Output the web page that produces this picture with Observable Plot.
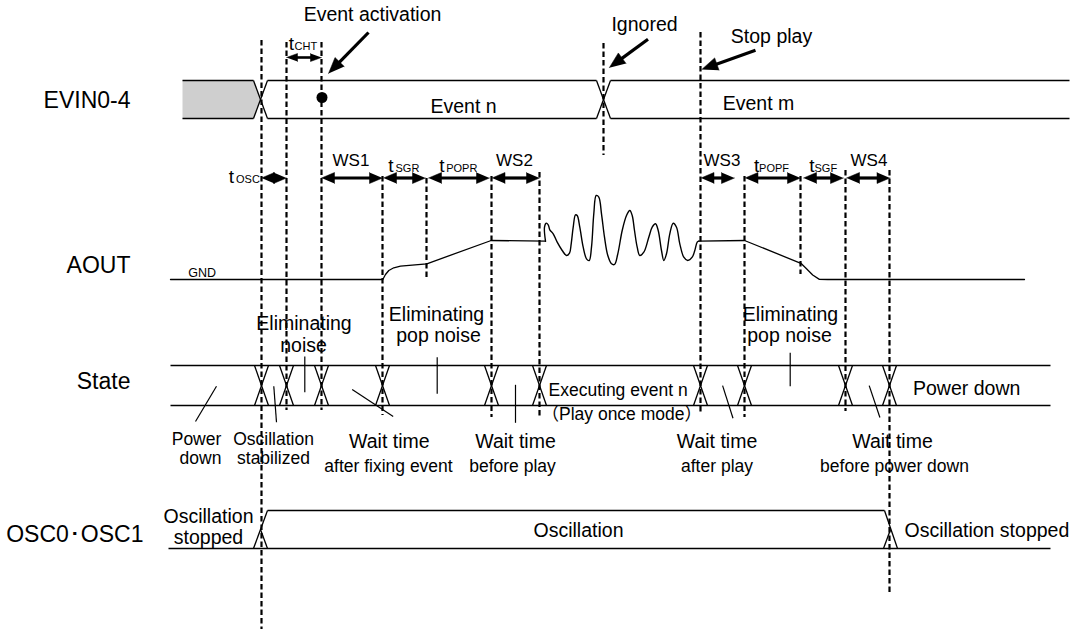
<!DOCTYPE html>
<html>
<head>
<meta charset="utf-8">
<script src="https://cdn.jsdelivr.net/npm/d3@7"></script>
<script src="https://cdn.jsdelivr.net/npm/@observablehq/plot@0.6"></script>
<style>
  html, body { margin: 0; padding: 0; background: #fff; }
  #chart svg { display: block; }
</style>
</head>
<body>
<div id="chart"></div>
<script>
// ---------------- DATA (diagram time units on x, signal levels on y) ----------------
const signalNames  = ["EVIN0-4", "AOUT", "State", "OSC0･OSC1"];
const signalNameT  = [130, 130, 130, 143];
const signalNameLv = [107, 272, 388, 541];

// Event timing instants (dashed guides): time, top level, bottom level
const guideT  = [261, 286, 321, 382, 426, 491, 539, 603, 700, 744, 800, 845, 889];
const guideY1 = [40,  42,  42,  176, 178, 176, 172, 43,  32,  176, 176, 170, 170];
const guideY2 = [629, 410, 410, 415, 277, 417, 417, 155, 414, 417, 274, 411, 595];

// EVIN0-4 bus
const evinLevels = [80, 118];
const evinStart = 182, evinEnd = 1069;
const evinCross = [260, 603];
const evinLabels = ["Event n", "Event m"];
const evinLabelT = [463, 758];
const evinLabelLv = [112, 109];
const activationT = 321.5, activationLv = 97;

// State bus
const stateLevels = [365, 405];
const stateStart = 170, stateEnd = 1050;
const stateCross = [261, 286, 321, 382, 491, 539, 700, 744, 845, 889];

// OSC0/OSC1
const oscLevels = [510, 548];
const oscStart = 168, oscEnd = 1050;
const oscOn = 260, oscOff = 890;

// AOUT waveform
const aoutRise = [[170,279],[382.3,279],[385,274],[388.3,270],[393.3,267.3],[400,265.7],[426.3,263.3],[490.7,240],[545,240.7]];
const aoutWave = [[545,240.7],[544,226.7],[545.7,222.7],[547.7,224.3],[549.3,229.3],[552.7,233.3],[556.7,241.7],[561.7,250],[566,255],[569,252.7],[570.7,243.3],[572.7,226.7],[575,214.3],[576.7,215],[579.3,226.7],[582.7,246.7],[586,258.3],[588.7,260],[591,246.7],[593.3,213.3],[595.7,195],[598.3,196.7],[601,213.3],[604,236.7],[607.3,255],[611,263.3],[614,264],[617.3,253.3],[621.7,230],[626,215],[629.3,210],[631.7,215],[634,230],[636.7,246.7],[639.3,255],[643.3,251.7],[648.3,236.7],[651.7,226.7],[655,223.3],[657.7,230],[661,250],[663.3,260],[666,253.3],[669.3,233.3],[672.7,222.7],[676,226.7],[679.3,243.3],[683.3,256.7],[687.3,260],[691.7,256.7],[694.3,250],[696.7,241.7],[698.3,240.7]];
const aoutFall = [[698.3,240.7],[744,240],[800.4,262.8],[805.5,267.8],[812.2,274.5],[818.9,278.9],[827.3,279],[1024,279]];

// Measured intervals (double arrows)
const spanNames = ["tCHT","tOSC","WS1","tSGR","tPOPR","WS2","WS3","tPOPF","tSGF","WS4"];
const spanT1 = [286, 261, 321, 383, 428, 491.5, 700.5, 744.5, 803, 846];
const spanT2 = [321, 286, 382, 425, 489, 539, 734, 800, 843, 889.5];
const spanLv = [57, 177.5, 177.5, 177.5, 177.5, 177.5, 177.5, 177.5, 177.5, 177.5];

// Interval labels: "WS" names centred; "t" names split into t + subscript
const wsLabels = ["WS1","WS2","WS3","WS4"];
const wsLabelT = [350.5, 514, 721.5, 868.5];
const tLabelSub = ["CHT","OSC","SGR","POPR","POPF","SGF"];
const tLabelT   = [288.3, 228.3, 387.7, 438.7, 753.4, 808.8];
const tLabelSubT= [294, 235.5, 395, 445.7, 758.6, 814];
const tLabelLv  = [49.3, 182.7, 171, 171, 171, 171];

// Callouts with arrows
const calloutText = ["Event activation", "Ignored", "Stop play"];
const calloutT  = [372, 644, 771];
const calloutLv = [20, 30, 42];
const calloutFrom = [[368,32],[647.5,38.7],[755,49.7]];
const calloutTo   = [[328,73],[608.8,67.2],[701.3,68.9]];

// State leaders
const leaders = [
  [[216,385.7],[195,421]],
  [[273.3,385.7],[276,421.7]],
  [[304.3,356],[304.3,391.7]],
  [[351.7,389],[392.7,416]],
  [[436.7,356.7],[436.7,393.3]],
  [[515,384.3],[515,422.3]],
  [[722.1,385.1],[732.5,417.7]],
  [[789.7,352.2],[789.7,385.8]],
  [[868.7,385.1],[879.4,417]]
];

// State descriptions
const stateMain = ["Eliminating","noise","Eliminating","pop noise","Eliminating","pop noise","Wait time","Wait time","Wait time","Wait time"];
const stateMainT = [303.5, 303, 436, 438, 790, 789, 388.8, 515, 716.5, 892];
const stateMainLv = [329, 351, 320, 341, 320, 341, 447, 447, 447, 447];
const stateSmall = ["Power","down","Oscillation","stabilized","after fixing event","before play","after play","before power down"];
const stateSmallT = [196, 200, 273, 273, 388, 512, 716.5, 894];
const stateSmallLv = [444, 463, 444, 463, 471, 471, 471, 471];
const execText = ["Executing event n", "（Play once mode）"];
const execT = [548, 541];
const execLv = [395, 419];
const powerDownText = "Power down", powerDownT = 912.5, powerDownLv = 394;

// OSC labels
const oscText = ["Oscillation", "stopped", "Oscillation"];
const oscTextT = [208, 208, 578];
const oscTextLv = [522, 543, 536];
const oscStopText = "Oscillation stopped", oscStopT = 904, oscStopLv = 536;
const gndText = "GND", gndT = 187.7, gndLv = 276.5;

// ---------------- BUILD ----------------
const cw = 7; // crossing half width
const segs = [];
const seg = (x1, y1, x2, y2) => segs.push({x1, y1, x2, y2});

// EVIN
const evinXs = [evinStart, ...evinCross.flatMap(t => [t - cw, t + cw]), evinEnd];
for (let i = 0; i < evinXs.length; i += 2) for (const lv of evinLevels) seg(evinXs[i], lv, evinXs[i+1], lv);
for (const t of evinCross) { seg(t - cw, evinLevels[0], t + cw, evinLevels[1]); seg(t - cw, evinLevels[1], t + cw, evinLevels[0]); }
const mid = (evinLevels[0] + evinLevels[1]) / 2;
const hatch = [[evinStart, evinLevels[0]], [evinCross[0] - cw, evinLevels[0]], [evinCross[0], mid], [evinCross[0] - cw, evinLevels[1]], [evinStart, evinLevels[1]]];

// State
for (const lv of stateLevels) seg(stateStart, lv, stateEnd, lv);
for (const t of stateCross) { seg(t - cw, stateLevels[0], t + cw, stateLevels[1]); seg(t - cw, stateLevels[1], t + cw, stateLevels[0]); }

// OSC
const oMid = (oscLevels[0] + oscLevels[1]) / 2;
seg(oscStart, oscLevels[1], oscEnd, oscLevels[1]);
seg(oscOn + cw, oscLevels[0], oscOff - cw + 1, oscLevels[0]);
seg(oscOn - cw, oscLevels[1], oscOn + cw, oscLevels[0]);
seg(oscOn, oMid, oscOn + cw, oscLevels[1]);
seg(oscOff - cw + 1, oscLevels[0], oscOff + cw, oscLevels[1]);
seg(oscOff - cw, oscLevels[1], oscOff, oMid);

// leaders
const leaderSegs = leaders.map(([a, b]) => ({x1: a[0], y1: a[1], x2: b[0], y2: b[1]}));

// guides
const guides = guideT.map((t, i) => ({t, y1: guideY1[i], y2: guideY2[i]}));

// AOUT
const aoutLines = [
  ...aoutRise.map(([x, y]) => ({x, y, z: "rise"})),
  ...aoutFall.map(([x, y]) => ({x, y, z: "fall"}))
];
const aoutWaveData = aoutWave.map(([x, y]) => ({x, y}));

// arrowheads
const heads = [];
const shafts = [];
function addHead(tx, ty, fx, fy, len, hw, id) {
  const dx = tx - fx, dy = ty - fy, L = Math.hypot(dx, dy), ux = dx / L, uy = dy / L;
  const bx = tx - ux * len, by = ty - uy * len;
  heads.push({x: tx, y: ty, id}, {x: bx - uy * hw, y: by + ux * hw, id}, {x: bx + uy * hw, y: by - ux * hw, id});
  return [bx + ux * 2, by + uy * 2];
}
spanNames.forEach((n, i) => {
  const small = n === "tCHT";
  const len = small ? 11 : 13, hw = small ? 4 : 5.5;
  const y = spanLv[i];
  const a = addHead(spanT1[i], y, spanT2[i], y, len, hw, n + "a");
  const b = addHead(spanT2[i], y, spanT1[i], y, len, hw, n + "b");
  shafts.push({x1: a[0], y1: y, x2: b[0], y2: y, w: small ? 2.6 : 3.2});
});
calloutFrom.forEach((f, i) => {
  const t = calloutTo[i];
  const b = addHead(t[0], t[1], f[0], f[1], 16, 6.5, "c" + i);
  shafts.push({x1: f[0], y1: f[1], x2: b[0], y2: b[1], w: 3.2});
});

const font = "'Liberation Sans', Arial, Helvetica, sans-serif";
const T = (data, o) => Plot.text(data, {x: "x", y: "y", text: "text", lineAnchor: "bottom", fill: "#000", fontFamily: font, ...o});
const zipText = (texts, ts, lvs) => texts.map((text, i) => ({text, x: ts[i], y: lvs[i]}));

const plot = Plot.plot({
  width: 1077, height: 629, margin: 0,
  x: {type: "linear", domain: [0, 1077], range: [0, 1077], axis: null},
  y: {type: "linear", domain: [0, 629], range: [0, 629], axis: null},
  style: {background: "#fff", fontFamily: font, overflow: "visible"},
  marks: [
    Plot.line(hatch.map(([x, y]) => ({x, y})), {x: "x", y: "y", fill: "#d3d3d4", stroke: "none"}),
    Plot.ruleX(guides, {x: "t", y1: "y1", y2: "y2", stroke: "#000", strokeWidth: 2.2, strokeDasharray: "5.5,3"}),
    Plot.link(segs, {x1: "x1", y1: "y1", x2: "x2", y2: "y2", stroke: "#000", strokeWidth: 1.3}),
    Plot.link(leaderSegs, {x1: "x1", y1: "y1", x2: "x2", y2: "y2", stroke: "#000", strokeWidth: 1.2}),
    Plot.line(aoutLines, {x: "x", y: "y", z: "z", stroke: "#000", strokeWidth: 1.3, curve: "linear"}),
    Plot.line(aoutWaveData, {x: "x", y: "y", stroke: "#000", strokeWidth: 1.4, curve: "catmull-rom"}),
    Plot.link(shafts, {x1: "x1", y1: "y1", x2: "x2", y2: "y2", stroke: "#000", strokeWidth: d => d.w, strokeLinecap: "butt"}),
    Plot.line(heads, {x: "x", y: "y", z: "id", fill: "#000", stroke: "#000", strokeWidth: 0.5}),
    Plot.dot([{x: activationT, y: activationLv}], {x: "x", y: "y", r: 5.5, fill: "#000", stroke: "none"}),
    // signal names
    T(zipText(signalNames, signalNameT, signalNameLv), {fontSize: 23, textAnchor: "end"}),
    // callouts and bus labels
    T(zipText(calloutText, calloutT, calloutLv), {fontSize: 19.5, textAnchor: "middle"}),
    T(zipText(evinLabels, evinLabelT, evinLabelLv), {fontSize: 19.5, textAnchor: "middle"}),
    // interval labels
    T(zipText(wsLabels, wsLabelT, wsLabels.map(() => 165)), {fontSize: 17, textAnchor: "middle"}),
    T(tLabelSub.map((s, i) => ({text: "t", x: tLabelT[i], y: tLabelLv[i]})), {fontSize: 19, textAnchor: "start"}),
    T(zipText(tLabelSub, tLabelSubT, tLabelLv), {fontSize: 11, textAnchor: "start"}),
    T([{text: gndText, x: gndT, y: gndLv}], {fontSize: 12.5, textAnchor: "start"}),
    // state labels
    T(zipText(stateMain, stateMainT, stateMainLv), {fontSize: 19.5, textAnchor: "middle"}),
    T(zipText(stateSmall, stateSmallT, stateSmallLv), {fontSize: 17.5, textAnchor: "middle"}),
    T(zipText(execText, execT, execLv), {fontSize: 17.5, textAnchor: "start", fontFamily: "'Liberation Sans', Arial, 'Noto Sans CJK JP', sans-serif"}),
    T([{text: powerDownText, x: powerDownT, y: powerDownLv}], {fontSize: 19.5, textAnchor: "start"}),
    // osc labels
    T(zipText(oscText, oscTextT, oscTextLv), {fontSize: 19.5, textAnchor: "middle"}),
    T([{text: oscStopText, x: oscStopT, y: oscStopLv}], {fontSize: 19.5, textAnchor: "start"})
  ]
});

// stipple texture for the undefined-state box
const ns = "http://www.w3.org/2000/svg";
const defs = document.createElementNS(ns, "defs");
defs.innerHTML = '<pattern id="stipple" width="2" height="2" patternUnits="userSpaceOnUse"><rect width="2" height="2" fill="#e2e2e2"/><rect width="1" height="1" fill="#b0b0b0"/><rect x="1" y="1" width="1" height="1" fill="#c6c6c6"/></pattern>';
plot.insertBefore(defs, plot.firstChild);
d3.select(plot).selectAll('[fill="#d3d3d4"]').attr("fill", "url(#stipple)");

document.getElementById("chart").appendChild(plot);
</script>
</body>
</html>
